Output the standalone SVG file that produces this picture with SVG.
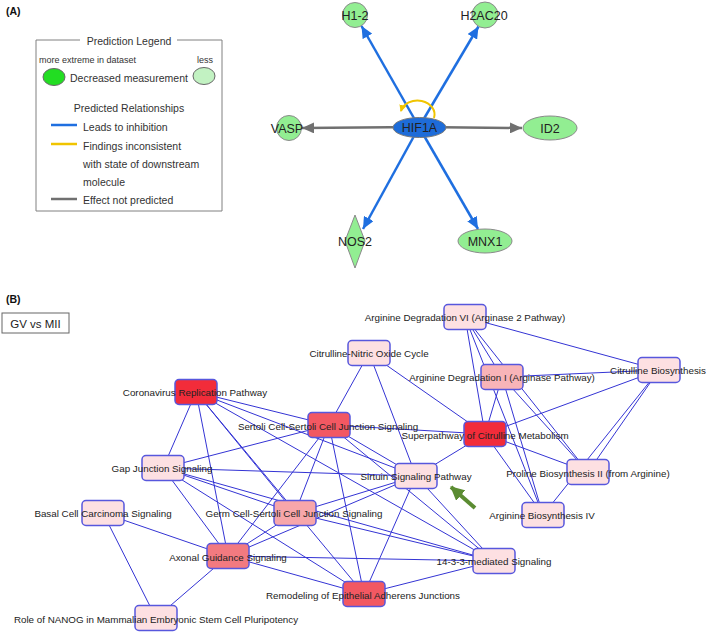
<svg xmlns="http://www.w3.org/2000/svg" width="709" height="636" viewBox="0 0 709 636">
<style>
  .panel{font-family:"Liberation Sans",Arial,sans-serif;font-weight:bold;font-size:10.5px;fill:#111}
  .leg{font-family:"Liberation Sans",Arial,sans-serif;font-size:10.5px;fill:#333}
  .legs{font-family:"Liberation Sans",Arial,sans-serif;font-size:9px;fill:#333}
  .gl{font-family:"Liberation Sans",Arial,sans-serif;font-size:12.5px;fill:#222;text-anchor:middle}
  .gn{fill:#92ee92;stroke:#8a8a8a;stroke-width:1}
  .blue{stroke:#1f6fe0;stroke-width:2.5;fill:none}
  .grey{stroke:#707070;stroke-width:2.5;fill:none}
  .e{stroke:#3434d4;stroke-width:1;fill:none}
  .box{stroke:#5757dd;stroke-width:1.5}
  .lbl{font-family:"Liberation Sans",Arial,sans-serif;font-size:9.8px;fill:#222;text-anchor:middle}
  .p0{fill:#fde0e2}
  .p1{fill:#f8b4b8}
  .p2{fill:#f7a6aa}
  .p3{fill:#f27a80}
  .p4{fill:#f25862}
  .p5{fill:#f22c3a}
</style>
<defs>
  <marker id="ab" markerUnits="userSpaceOnUse" markerWidth="12" markerHeight="11" refX="12" refY="5.5" orient="auto">
    <path d="M0,0 L12,5.5 L0,11 z" fill="#1f6fe0"/>
  </marker>
  <marker id="ag" markerUnits="userSpaceOnUse" markerWidth="12" markerHeight="11" refX="12" refY="5.5" orient="auto">
    <path d="M0,0 L12,5.5 L0,11 z" fill="#707070"/>
  </marker>
  <marker id="ay" markerUnits="userSpaceOnUse" markerWidth="7" markerHeight="7" refX="6" refY="3.5" orient="auto">
    <path d="M0,0 L7,3.5 L0,7 z" fill="#f0c400"/>
  </marker>
  <marker id="agr" markerUnits="userSpaceOnUse" markerWidth="14" markerHeight="14" refX="13" refY="7" orient="auto">
    <path d="M0,0 L14,7 L0,14 z" fill="#5b8c32"/>
  </marker>
</defs>
<rect width="709" height="636" fill="#fff"/>

<!-- Panel labels -->
<text class="panel" x="6" y="15">(A)</text>
<text class="panel" x="6" y="303">(B)</text>

<!-- Legend -->
<g id="legend">
  <path d="M80,40 H36 V211 H222 V40 H177" fill="none" stroke="#808080" stroke-width="1"/>
  <text class="leg" x="129" y="45" text-anchor="middle">Prediction Legend</text>
  <text class="legs" x="39" y="63">more extreme in dataset</text>
  <text class="legs" x="197" y="63">less</text>
  <ellipse cx="54" cy="77" rx="11" ry="8.5" fill="#22dd22" stroke="#666" stroke-width="1"/>
  <ellipse cx="204" cy="76" rx="11" ry="8.5" fill="#c2f2c2" stroke="#666" stroke-width="1"/>
  <text class="leg" x="70" y="82">Decreased measurement</text>
  <text class="leg" x="129" y="112" text-anchor="middle">Predicted Relationships</text>
  <line x1="51" y1="125" x2="77" y2="125" stroke="#1f6fe0" stroke-width="2.5"/>
  <text class="leg" x="83" y="131">Leads to inhibition</text>
  <line x1="51" y1="144" x2="77" y2="144" stroke="#f0c400" stroke-width="2.5"/>
  <text class="leg" x="83" y="150">Findings inconsistent</text>
  <text class="leg" x="83" y="168">with state of downstream</text>
  <text class="leg" x="83" y="186">molecule</text>
  <line x1="51" y1="199" x2="77" y2="199" stroke="#707070" stroke-width="2.5"/>
  <text class="leg" x="83" y="204">Effect not predicted</text>
</g>

<!-- Panel A connectors -->
<g id="connectors-a">
  <line class="blue" x1="419" y1="127" x2="361.5" y2="26" marker-end="url(#ab)"/>
  <line class="blue" x1="419" y1="127" x2="478.5" y2="26.5" marker-end="url(#ab)"/>
  <line class="blue" x1="419" y1="127" x2="363" y2="229" marker-end="url(#ab)"/>
  <line class="blue" x1="419" y1="127" x2="478" y2="229" marker-end="url(#ab)"/>
  <line class="grey" x1="419" y1="127" x2="302" y2="128" marker-end="url(#ag)"/>
  <line class="grey" x1="419" y1="127" x2="522" y2="128" marker-end="url(#ag)"/>
</g>

<!-- Panel A nodes -->
<g id="HIF1A">
  <ellipse cx="419.5" cy="127.5" rx="26.5" ry="10" fill="#1e6cd8" stroke="#7a7a7a" stroke-width="1"/>
  <text class="gl" x="419.5" y="132">HIF1A</text>
</g>
<path d="M434,118 A17,14 0 1 0 401,111" fill="none" stroke="#f0c400" stroke-width="2" marker-end="url(#ay)"/>
<g id="H1-2">
  <circle class="gn" cx="355" cy="15" r="12.5"/>
  <text class="gl" x="355" y="20">H1-2</text>
</g>
<g id="H2AC20">
  <circle class="gn" cx="485" cy="15" r="13"/>
  <text class="gl" x="484" y="20">H2AC20</text>
</g>
<g id="VASP">
  <circle class="gn" cx="289" cy="128" r="12.5"/>
  <text class="gl" x="287" y="133">VASP</text>
</g>
<g id="ID2">
  <ellipse class="gn" cx="550" cy="128" rx="27" ry="12"/>
  <text class="gl" x="550" y="133">ID2</text>
</g>
<g id="NOS2">
  <polygon class="gn" points="355,215 365,241 355,268 345,241"/>
  <text class="gl" x="355" y="246">NOS2</text>
</g>
<g id="MNX1">
  <ellipse class="gn" cx="485" cy="241" rx="27" ry="12"/>
  <text class="gl" x="485" y="246">MNX1</text>
</g>

<!-- Panel B title box -->
<g id="gv-vs-mii">
  <rect x="2" y="313" width="67" height="20" fill="#fff" stroke="#666" stroke-width="1"/>
  <text x="35.5" y="327.5" text-anchor="middle" font-family="Liberation Sans, Arial, sans-serif" font-size="11.5" fill="#222">GV vs MII</text>
</g>

<!-- Panel B connectors -->
<g id="connectors-b">
  <line class="e" x1="196" y1="392" x2="163" y2="468"/>
  <line class="e" x1="196" y1="392" x2="228" y2="556"/>
  <line class="e" x1="196" y1="392" x2="364" y2="594" stroke-width="1.8"/>
  <line class="e" x1="196" y1="392" x2="295" y2="513"/>
  <line class="e" x1="196" y1="392" x2="329" y2="425"/>
  <line class="e" x1="196" y1="392" x2="416" y2="476"/>
  <line class="e" x1="196" y1="392" x2="494" y2="561"/>
  <line class="e" x1="163" y1="468" x2="329" y2="425"/>
  <line class="e" x1="163" y1="468" x2="416" y2="476"/>
  <line class="e" x1="163" y1="468" x2="228" y2="556"/>
  <line class="e" x1="163" y1="468" x2="295" y2="513"/>
  <line class="e" x1="163" y1="468" x2="494" y2="561"/>
  <line class="e" x1="163" y1="468" x2="364" y2="594"/>
  <line class="e" x1="329" y1="425" x2="369" y2="353"/>
  <line class="e" x1="329" y1="425" x2="485" y2="434"/>
  <line class="e" x1="329" y1="425" x2="416" y2="476"/>
  <line class="e" x1="329" y1="425" x2="295" y2="513"/>
  <line class="e" x1="329" y1="425" x2="228" y2="556"/>
  <line class="e" x1="329" y1="425" x2="364" y2="594"/>
  <line class="e" x1="329" y1="425" x2="494" y2="561"/>
  <line class="e" x1="369" y1="353" x2="485" y2="434"/>
  <line class="e" x1="369" y1="353" x2="416" y2="476"/>
  <line class="e" x1="465" y1="317" x2="659" y2="370"/>
  <line class="e" x1="465" y1="317" x2="485" y2="434"/>
  <line class="e" x1="465" y1="317" x2="502" y2="377"/>
  <line class="e" x1="465" y1="317" x2="588" y2="472"/>
  <line class="e" x1="465" y1="317" x2="543" y2="515"/>
  <line class="e" x1="502" y1="377" x2="659" y2="370"/>
  <line class="e" x1="502" y1="377" x2="485" y2="434"/>
  <line class="e" x1="502" y1="377" x2="588" y2="472"/>
  <line class="e" x1="502" y1="377" x2="543" y2="515"/>
  <line class="e" x1="485" y1="434" x2="659" y2="370"/>
  <line class="e" x1="485" y1="434" x2="416" y2="476"/>
  <line class="e" x1="485" y1="434" x2="588" y2="472"/>
  <line class="e" x1="485" y1="434" x2="543" y2="515"/>
  <line class="e" x1="659" y1="370" x2="588" y2="472"/>
  <line class="e" x1="659" y1="370" x2="543" y2="515"/>
  <line class="e" x1="416" y1="476" x2="295" y2="513"/>
  <line class="e" x1="416" y1="476" x2="228" y2="556"/>
  <line class="e" x1="416" y1="476" x2="364" y2="594"/>
  <line class="e" x1="416" y1="476" x2="494" y2="561"/>
  <line class="e" x1="295" y1="513" x2="228" y2="556"/>
  <line class="e" x1="295" y1="513" x2="494" y2="561"/>
  <line class="e" x1="228" y1="556" x2="103" y2="513"/>
  <line class="e" x1="228" y1="556" x2="156" y2="618"/>
  <line class="e" x1="228" y1="556" x2="494" y2="561"/>
  <line class="e" x1="228" y1="556" x2="364" y2="594"/>
  <line class="e" x1="103" y1="513" x2="156" y2="618"/>
  <line class="e" x1="364" y1="594" x2="494" y2="561"/>
  <line x1="475" y1="508" x2="451" y2="487" stroke="#5b8c32" stroke-width="4" marker-end="url(#agr)"/>
</g>

<!-- Panel B nodes -->
<g id="coronavirus">
  <rect class="box p5" x="175" y="379.5" width="42" height="25" rx="4"/>
  <text class="lbl" x="195" y="396">Coronavirus Replication Pathway</text>
</g>
<g id="sertoli">
  <rect class="box p4" x="308" y="412.5" width="42" height="25" rx="4"/>
  <text class="lbl" x="328" y="430">Sertoli Cell-Sertoli Cell Junction Signaling</text>
</g>
<g id="citrulline-no">
  <rect class="box p0" x="348" y="340.5" width="42" height="25" rx="4"/>
  <text class="lbl" x="369" y="357">Citrulline-Nitric Oxide Cycle</text>
</g>
<g id="arg-deg-vi">
  <rect class="box p0" x="444" y="304.5" width="42" height="25" rx="4"/>
  <text class="lbl" x="465" y="321">Arginine Degradation VI (Arginase 2 Pathway)</text>
</g>
<g id="arg-deg-i">
  <rect class="box p1" x="481" y="364.5" width="42" height="25" rx="4"/>
  <text class="lbl" x="502" y="381">Arginine Degradation I (Arginase Pathway)</text>
</g>
<g id="citrulline-bio">
  <rect class="box p0" x="638" y="357.5" width="42" height="25" rx="4"/>
  <text class="lbl" x="658" y="374">Citrulline Biosynthesis</text>
</g>
<g id="superpathway">
  <rect class="box p5" x="464" y="421.5" width="42" height="25" rx="4"/>
  <text class="lbl" x="485" y="439">Superpathway of Citrulline Metabolism</text>
</g>
<g id="sirtuin">
  <rect class="box p0" x="395" y="463.5" width="42" height="25" rx="4"/>
  <text class="lbl" x="416" y="480">Sirtuin Signaling Pathway</text>
</g>
<g id="proline">
  <rect class="box p0" x="567" y="459.5" width="42" height="25" rx="4"/>
  <text class="lbl" x="588" y="477">Proline Biosynthesis II (from Arginine)</text>
</g>
<g id="arg-bio-iv">
  <rect class="box p0" x="522" y="502.5" width="42" height="25" rx="4"/>
  <text class="lbl" x="542" y="519">Arginine Biosynthesis IV</text>
</g>
<g id="signaling-14-3-3">
  <rect class="box p0" x="473" y="548.5" width="42" height="25" rx="4"/>
  <text class="lbl" x="494" y="565">14-3-3-mediated Signaling</text>
</g>
<g id="remodeling">
  <rect class="box p4" x="343" y="581.5" width="42" height="25" rx="4"/>
  <text class="lbl" x="363" y="599">Remodeling of Epithelial Adherens Junctions</text>
</g>
<g id="germ-cell">
  <rect class="box p2" x="274" y="500.5" width="42" height="25" rx="4"/>
  <text class="lbl" x="294" y="517">Germ Cell-Sertoli Cell Junction Signaling</text>
</g>
<g id="axonal">
  <rect class="box p3" x="207" y="543.5" width="42" height="25" rx="4"/>
  <text class="lbl" x="228" y="561">Axonal Guidance Signaling</text>
</g>
<g id="gap-junction">
  <rect class="box p0" x="142" y="455.5" width="42" height="25" rx="4"/>
  <text class="lbl" x="162" y="472">Gap Junction Signaling</text>
</g>
<g id="basal-cell">
  <rect class="box p0" x="82" y="500.5" width="42" height="25" rx="4"/>
  <text class="lbl" x="103" y="517">Basal Cell Carcinoma Signaling</text>
</g>
<g id="nanog">
  <rect class="box p0" x="135" y="605.5" width="42" height="25" rx="4"/>
  <text class="lbl" x="156" y="623">Role of NANOG in Mammalian Embryonic Stem Cell Pluripotency</text>
</g>
</svg>
